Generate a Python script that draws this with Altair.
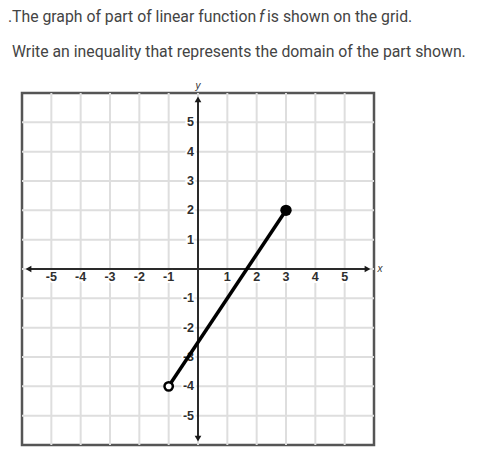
import altair as alt
import pandas as pd

# ---- data ----
prompt_line1_a = "The graph of part of linear function"
prompt_line1_f = "f"
prompt_line1_b = "is shown on the grid."
prompt_line2 = "Write an inequality that represents the domain of the part shown."
question_number = "."

grid_ticks = [-5, -4, -3, -2, -1, 0, 1, 2, 3, 4, 5]
label_ticks = [-5, -4, -3, -2, -1, 1, 2, 3, 4, 5]
axis_extent = [-5.7, 5.7]
arrow_pos = [-5.78, 5.78]

segment_x = [-1, 3]
segment_y = [-4, 2]
open_x, open_y = [-1], [-4]
closed_x, closed_y = [3], [2]

W = 352
H = 352

xs = alt.Scale(domain=[-6, 6], nice=False, zero=False)
ys = alt.Scale(domain=[-6, 6], nice=False, zero=False)

grid_df = pd.DataFrame({"v": grid_ticks})
lab_df = pd.DataFrame({"v": label_ticks, "t": [str(v) for v in label_ticks],
                       "z": [0] * len(label_ticks)})
one = pd.DataFrame({"z": [0]})

vgrid = alt.Chart(grid_df).mark_rule(color="#dedede", strokeWidth=2).encode(
    x=alt.X("v:Q", scale=xs, axis=None), y=alt.value(0), y2=alt.value(H))
hgrid = alt.Chart(grid_df).mark_rule(color="#dedede", strokeWidth=2).encode(
    y=alt.Y("v:Q", scale=ys, axis=None), x=alt.value(0), x2=alt.value(W))

ax_df = pd.DataFrame({"lo": [axis_extent[0]], "hi": [axis_extent[1]], "z": [0]})
xaxis = alt.Chart(ax_df).mark_rule(color="#2a2a2a", strokeWidth=2).encode(
    x=alt.X("lo:Q", scale=xs, axis=None), x2="hi:Q", y=alt.Y("z:Q", scale=ys, axis=None))
yaxis = alt.Chart(ax_df).mark_rule(color="#2a2a2a", strokeWidth=2).encode(
    y=alt.Y("lo:Q", scale=ys, axis=None), y2="hi:Q", x=alt.X("z:Q", scale=xs, axis=None))

arr_df = pd.DataFrame({
    "x": [arrow_pos[0], arrow_pos[1], 0, 0],
    "y": [0, 0, arrow_pos[1], arrow_pos[0]],
    "s": ["triangle-left", "triangle-right", "triangle-up", "triangle-down"],
})
arrows = alt.Chart(arr_df).mark_point(filled=True, color="#1a1a1a", size=45, opacity=1).encode(
    x=alt.X("x:Q", scale=xs, axis=None), y=alt.Y("y:Q", scale=ys, axis=None),
    shape=alt.Shape("s:N", scale=None, legend=None))

lab_font = dict(font="Liberation Sans Narrow, Liberation Sans", fontSize=12.5, fontWeight="bold")
xlab_halo = alt.Chart(lab_df).mark_text(baseline="middle", align="center", dy=8,
                                        stroke="white", strokeWidth=4, **lab_font).encode(
    x=alt.X("v:Q", scale=xs, axis=None), y=alt.Y("z:Q", scale=ys, axis=None), text="t:N")
xlab = alt.Chart(lab_df).mark_text(baseline="middle", align="center", dy=8,
                                   color="#2e2e2e", **lab_font).encode(
    x=alt.X("v:Q", scale=xs, axis=None), y=alt.Y("z:Q", scale=ys, axis=None), text="t:N")
ylab_halo = alt.Chart(lab_df).mark_text(baseline="middle", align="right", dx=-4,
                                        stroke="white", strokeWidth=4, **lab_font).encode(
    y=alt.Y("v:Q", scale=ys, axis=None), x=alt.X("z:Q", scale=xs, axis=None), text="t:N")
ylab = alt.Chart(lab_df).mark_text(baseline="middle", align="right", dx=-4,
                                   color="#2e2e2e", **lab_font).encode(
    y=alt.Y("v:Q", scale=ys, axis=None), x=alt.X("z:Q", scale=xs, axis=None), text="t:N")

xname = alt.Chart(one).mark_text(text="x", fontStyle="italic", font="Liberation Sans",
                                 fontSize=10, color="#333", align="center", baseline="middle").encode(
    x=alt.value(W + 6), y=alt.Y("z:Q", scale=ys, axis=None))
yname = alt.Chart(one).mark_text(text="y", fontStyle="italic", font="Liberation Sans",
                                 fontSize=10, color="#333", align="center", baseline="middle").encode(
    x=alt.X("z:Q", scale=xs, axis=None), y=alt.value(-7))

seg_df = pd.DataFrame({"x": segment_x, "y": segment_y})
segment = alt.Chart(seg_df).mark_line(color="black", strokeWidth=3.5).encode(
    x=alt.X("x:Q", scale=xs, axis=None), y=alt.Y("y:Q", scale=ys, axis=None))
open_pt = alt.Chart(pd.DataFrame({"x": open_x, "y": open_y})).mark_point(
    shape="circle", filled=True, fill="white", stroke="black", strokeWidth=2.5, size=70, opacity=1).encode(
    x=alt.X("x:Q", scale=xs, axis=None), y=alt.Y("y:Q", scale=ys, axis=None))
closed_pt = alt.Chart(pd.DataFrame({"x": closed_x, "y": closed_y})).mark_point(
    shape="circle", filled=True, color="black", size=130, opacity=1).encode(
    x=alt.X("x:Q", scale=xs, axis=None), y=alt.Y("y:Q", scale=ys, axis=None))

tfont = dict(font="Roboto", fontSize=15.8, color="#444", baseline="alphabetic", align="left")
t0 = alt.Chart(one).mark_text(text=question_number, **tfont).encode(x=alt.value(-14), y=alt.value(-71))
t1a = alt.Chart(one).mark_text(text=prompt_line1_a, **tfont).encode(x=alt.value(-10), y=alt.value(-71))
t1f = alt.Chart(one).mark_text(text=prompt_line1_f, fontStyle="italic", **tfont).encode(x=alt.value(237), y=alt.value(-71))
t1b = alt.Chart(one).mark_text(text=prompt_line1_b, **tfont).encode(x=alt.value(245), y=alt.value(-71))
t2 = alt.Chart(one).mark_text(text=prompt_line2, **tfont).encode(x=alt.value(-10), y=alt.value(-36))

chart = alt.layer(
    vgrid, hgrid, xaxis, yaxis, arrows, xlab_halo, ylab_halo, xlab, ylab,
    segment, open_pt, closed_pt, xname, yname, t0, t1a, t1f, t1b, t2
).properties(
    width=W, height=H,
    autosize=alt.AutoSizeParams(type="none"),
    padding={"left": 14, "top": 85, "right": 105, "bottom": 15},
).configure_view(stroke="#555", strokeWidth=2.5)

chart.save("out.html", embed_options={"renderer": "svg", "actions": False})
